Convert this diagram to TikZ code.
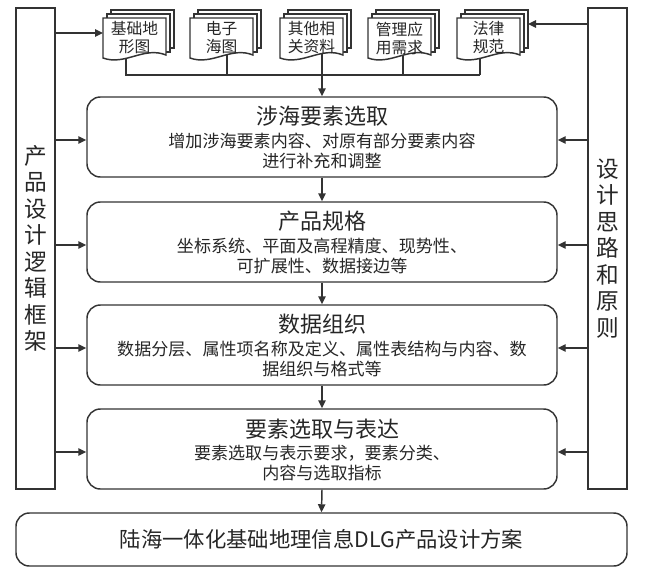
\documentclass[tikz,border=0pt]{standalone}
\usepackage{fontspec}
\setmainfont{Noto Sans CJK SC}
\usetikzlibrary{arrows.meta,calc}
\newcommand\mydocshape[3]{%
  \draw[page] (#1+8,10) rectangle (#1+71,48);
  \draw[page] (#1+4,14) rectangle (#1+67,52);
  \draw[page] (#1,18) -- (#1+63,18) -- (#1+63,55) .. controls (#1+41,46) and (#1+22,66) .. (#1,58) -- cycle;
  \node[doctxt] (#2) at (#1+31.5,38) {#3};
}
\begin{document}
\begin{tikzpicture}[x=0.75pt,y=-0.75pt,
  line/.style={draw=black!80, line width=1.1pt},
  arr/.style={line, -{Triangle[length=6pt,width=5.5pt]}},
  mainbox/.style={line, rounded corners=10pt, minimum width=352.5pt, minimum height=60pt, inner sep=0pt},
  sidebox/.style={line, minimum width=29.25pt, minimum height=360.75pt, inner sep=0pt, align=center, font=\fontsize{17}{19.9}\selectfont, text=black!85},
  ttl/.style={font=\fontsize{16.5}{19}\selectfont, text=black!85},
  subt/.style={font=\fontsize{12.8}{15}\selectfont, text=black!85, align=center},
  doctxt/.style={font=\fontsize{11.8}{13.5}\selectfont, text=black!85, align=center},
  page/.style={line, fill=white}]
\useasboundingbox (0,0) rectangle (646,575);

% side boxes
\node[sidebox] (lb) at (35.5,248.5) {产\\品\\设\\计\\逻\\辑\\框\\架};
\node[sidebox] (rb) at (607.5,248.5) {设\\计\\思\\路\\和\\原\\则};

% main boxes
\node[mainbox] (b1) at (322,137) {};
\node[mainbox] (b2) at (322,242) {};
\node[mainbox] (b3) at (322,345) {};
\node[mainbox] (b4) at (322,449) {};
\node[line, rounded corners=10pt, minimum width=458.25pt, minimum height=39.75pt, inner sep=0pt,
      font=\fontsize{16}{19}\selectfont, text=black!85] (b5) at (321.5,539.5) {陆海一体化基础地理信息DLG产品设计方案};

\node[ttl] (t1) at ($(b1.center)+(0,-21)$) {涉海要素选取};
\node[subt] (s1) at ($(b1.center)+(0,14)$) {增加涉海要素内容、对原有部分要素内容\\进行补充和调整};
\node[ttl] (t2) at ($(b2.center)+(0,-21)$) {产品规格};
\node[subt] (s2) at ($(b2.center)+(0,14)$) {坐标系统、平面及高程精度、现势性、\\可扩展性、数据接边等};
\node[ttl] (t3) at ($(b3.center)+(0,-21)$) {数据组织};
\node[subt] (s3) at ($(b3.center)+(0,14)$) {数据分层、属性项名称及定义、属性表结构与内容、数\\据组织与格式等};
\node[ttl] (t4) at ($(b4.center)+(0,-20)$) {要素选取与表达};
\node[subt] (s4) at ($(b4.center)+(0,14)$) {要素选取与表示要求，要素分类、\\内容与选取指标};

% vertical arrows
\draw[arr] (b1.south) -- (b2.north);
\draw[arr] (b2.south) -- (b3.north);
\draw[arr] (b3.south) -- (b4.north);
\draw[arr] (b4.south) -- (b5.north);

% side arrows
\foreach \b in {b1,b2,b3,b4}{
  \coordinate (l\b) at ($(\b.west)+(0,3)$);
  \coordinate (r\b) at ($(\b.east)+(0,3)$);
  \draw[arr] (lb.east |- l\b) -- (l\b);
  \draw[arr] (rb.west |- r\b) -- (r\b);
}

% document connectors (drawn under documents)
\coordinate (c1) at (126,45);
\coordinate (c2) at (227,45);
\coordinate (c3) at (322,45);
\coordinate (c4) at (403,45);
\coordinate (c5) at (480,45);
\coordinate (bus) at (480,75);
\draw[line] (c1) |- (bus);
\draw[line] (c2) -- (c2 |- bus);
\draw[line] (c4) -- (c4 |- bus);
\draw[line] (c5) -- (bus);
\draw[arr] (c3) -- (b1.north);

% documents
\mydocshape{103}{d1}{基础地\\形图}
\mydocshape{190}{d2}{电子\\海图}
\mydocshape{280}{d3}{其他相\\关资料}
\mydocshape{368}{d4}{管理应\\用需求}
\mydocshape{457}{d5}{法律\\规范}

% top arrows
\coordinate (tl) at (103,33);
\coordinate (tr) at (528,24);
\draw[arr] (lb.east |- tl) -- (tl);
\draw[arr] (rb.west |- tr) -- (tr);
\end{tikzpicture}
\end{document}
